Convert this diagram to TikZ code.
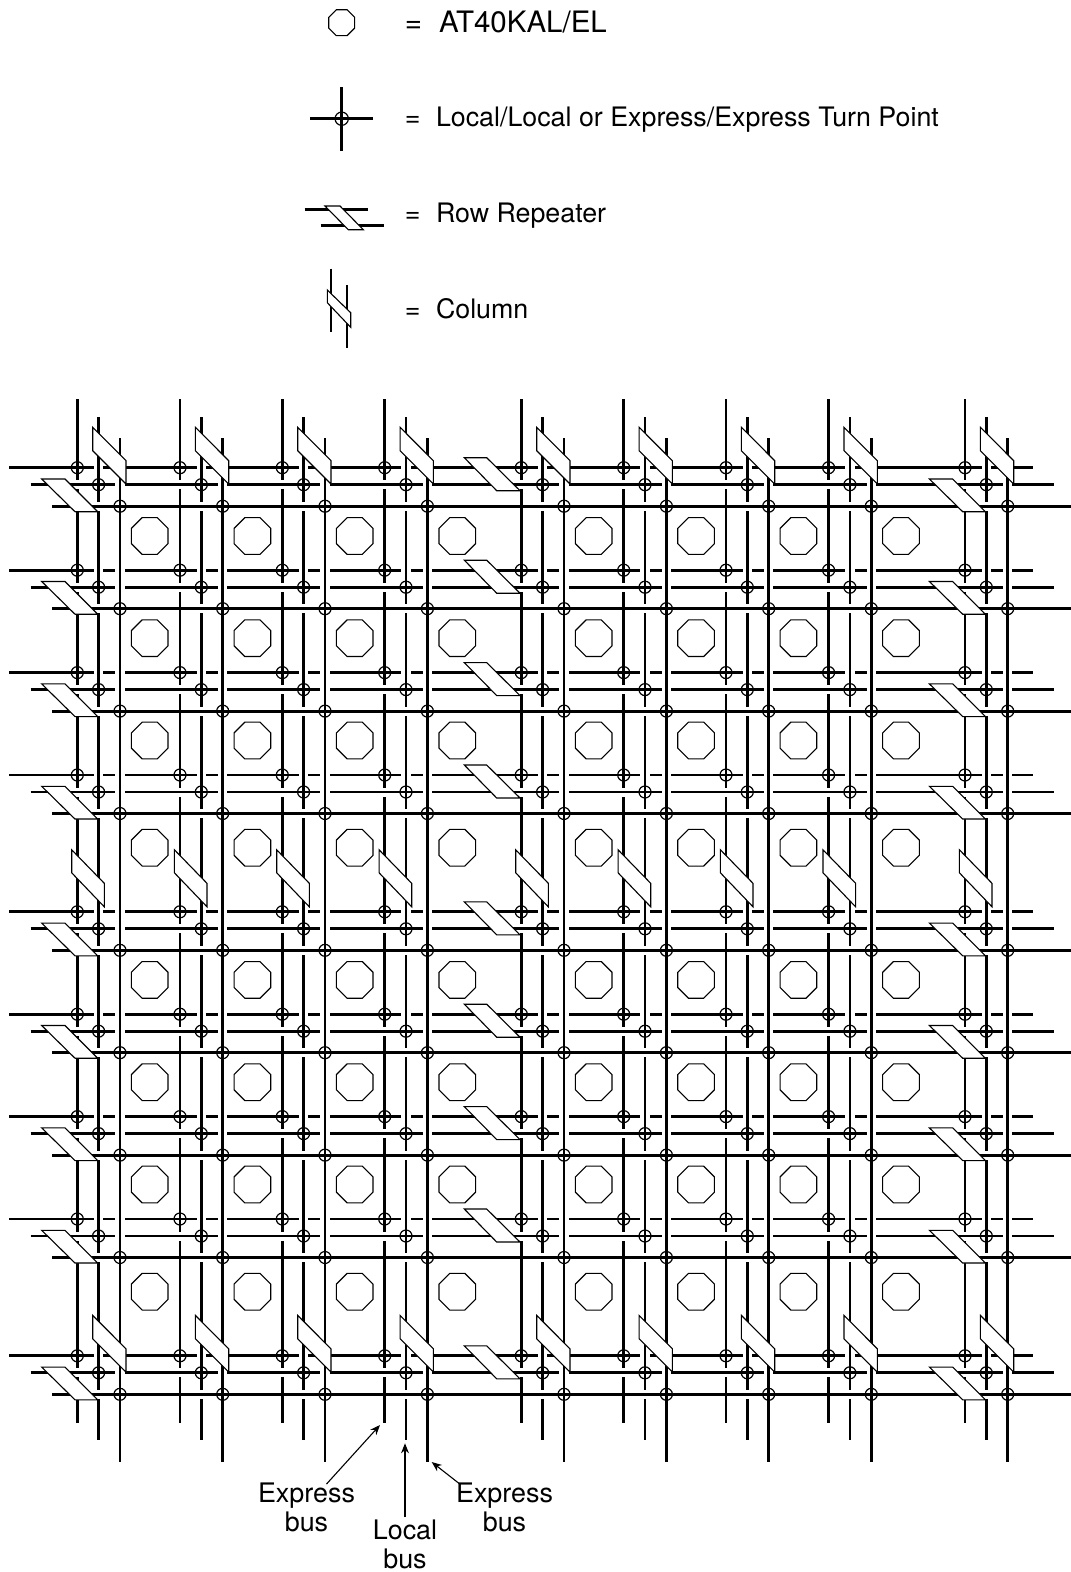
\documentclass[tikz,border=0pt]{standalone}
\usepackage{fontspec}
\setmainfont{TeX Gyre Heros}
\usetikzlibrary{shapes.geometric, arrows.meta, positioning}

\newcommand{\colrpt}[2]{\draw[rpt] (#1+15.4,#2-40.4) -- (#1+15.4,#2-17) -- (#1+48.7,#2+16.3) -- (#1+48.7,#2-7) -- cycle;}
\newcommand{\midcolrpt}[2]{\draw[rpt] (#1-5.6,#2-62) -- (#1-5.6,#2-39) -- (#1+27,#2-5) -- (#1+27,#2-28.5) -- cycle;}
\newcommand{\rowrpt}[2]{\draw[rpt] (#1-35.6,#2+11.3) -- (#1-12.3,#2+11.3) -- (#1+20.4,#2+44) -- (#1-2.3,#2+44) -- cycle;}
\newcommand{\midrowrpt}[1]{\draw[rpt] (464.3,#1-10) -- (486.7,#1-10) -- (520,#1+23) -- (496.7,#1+23) -- cycle;}

\begin{document}
\begin{tikzpicture}[
    x=1pt, y=-1pt,
    bus/.style={line width=2.8pt},
    gap/.style={white, line width=3.8pt},
    rpt/.style={draw, fill=white, line width=1.1pt},
    chip/.style={regular polygon, regular polygon sides=8, draw, line width=1.1pt,
                inner sep=0pt, minimum size=39.7pt},
    turnpt/.style={circle, draw, line width=1.2pt, inner sep=0pt, minimum size=12pt},
    legend/.style={anchor=base west, inner sep=0pt, font=\fontsize{26.8}{28}\selectfont},
    buslabel/.style={align=center, inner sep=0pt, font=\fontsize{26.9}{28.5}\selectfont},
    arrow/.style={-{Stealth[length=10pt,width=8pt]}, line width=1.1pt}
]
\useasboundingbox (0,0) rectangle (1071,1572);

% === LEGEND ===
\node[chip, minimum size=28.1pt] (legchip) at (341.7,22.7) {};
\node[legend, font=\fontsize{29.5}{31}\selectfont] (legchiptxt) at (404.7,32.7) {=\hspace{17pt}AT40KAL/EL};

\draw[bus] (310,118.7) -- (373.3,118.7);
\draw[bus] (341.7,87.3) -- (341.7,150.7);
\node[turnpt, minimum size=13.3pt] (legturn) at (341.7,118.7) {};
\node[legend] (legturntxt) at (404.7,126) {=\hspace{15.5pt}Local/Local or Express/Express Turn Point};

\draw[bus] (304.7,209.3) -- (368.3,209.3);
\draw[bus] (320.7,225.7) -- (384.3,225.7);
\draw[rpt] (325,206) -- (340,206) -- (363.3,229.7) -- (348.3,229.7) -- cycle;
\node[legend] (legrowtxt) at (404.7,222.7) {=\hspace{15.5pt}Row Repeater};

\draw[bus] (331,268.7) -- (331,332);
\draw[bus] (347,285) -- (347,348);
\draw[rpt] (327.3,290) -- (327.3,302.7) -- (350.7,327.3) -- (350.7,312.7) -- cycle;
\node[legend] (legcoltxt) at (404.7,318.7) {=\hspace{15.5pt}Column};

% === HORIZONTAL BUSES ===
\foreach \ry in {467.7,570.2,672.6,775,911.8,1014.2,1116.6,1219,1355.8} {
    \draw[bus] (9,\ry) -- (1033,\ry);
    \draw[bus] (30.7,\ry+17) -- (1054,\ry+17);
    \draw[bus] (52,\ry+38.5) -- (1071,\ry+38.5);
    \foreach \cx in {77.3,180,282.3,384.7,521.3,623.7,726,828.6,965} {
        \draw[gap] (\cx+16.6,\ry) -- (\cx+26,\ry);
        \draw[gap] (\cx+38,\ry) -- (\cx+47.4,\ry);
        \draw[gap] (\cx+38,\ry+17) -- (\cx+47.4,\ry+17);
    }
}

% === VERTICAL BUSES ===
\foreach \cx in {77.3,180,282.3,384.7,521.3,623.7,726,828.6,965} {
    \draw[bus] (\cx,399.3) -- (\cx,1423);
    \draw[bus] (\cx+21.3,417) -- (\cx+21.3,1440);
    \draw[bus] (\cx+42.7,438) -- (\cx+42.7,1461.7);
    \foreach \ry in {467.7,570.2,672.6,775,911.8,1014.2,1116.6,1219,1355.8} {
        \draw[gap] (\cx,\ry+12.5) -- (\cx,\ry+21.5);
        \draw[bus] (\cx-2.2,\ry+17) -- (\cx+2.2,\ry+17);
        \draw[gap] (\cx+21.3,\ry+34) -- (\cx+21.3,\ry+43);
        \draw[bus] (\cx+19.1,\ry+38.5) -- (\cx+23.5,\ry+38.5);
    }
}

% === REPEATERS ===
\foreach \cx in {77.3,180,282.3,384.7,521.3,623.7,726,828.6,965} {
    \colrpt{\cx}{467.7}
    \midcolrpt{\cx}{911.8}
    \colrpt{\cx}{1355.8}
}
\foreach \ry in {467.7,570.2,672.6,775,911.8,1014.2,1116.6,1219,1355.8} {
    \rowrpt{77.3}{\ry}
    \midrowrpt{\ry}
    \rowrpt{965}{\ry}
}

% === TURN POINTS ===
\foreach \cx [count=\ci] in {77.3,180,282.3,384.7,521.3,623.7,726,828.6,965} {
    \foreach \ry [count=\ri] in {467.7,570.2,672.6,775,911.8,1014.2,1116.6,1219,1355.8} {
        \node[turnpt] (tpa\ci-\ri) at (\cx,\ry) {};
        \node[turnpt] (tpb\ci-\ri) at (\cx+21.3,\ry+17) {};
        \node[turnpt] (tpc\ci-\ri) at (\cx+42.7,\ry+38.5) {};
    }
}

% === CHIPS ===
\foreach \cx [count=\ci] in {149.7,252.4,354.7,457.3,593.7,696.1,798.4,901} {
    \foreach \ry [count=\ri] in {536,638.2,740.5,847.7,979.9,1082.2,1184.5,1291.7} {
        \node[chip] (chip\ci-\ri) at (\cx,\ry) {};
    }
}

% === BUS LABELS ===
\coordinate (endexpa) at (380,1425);
\coordinate (endloc) at (405,1443.3);
\coordinate (endexpb) at (431.7,1462);
\node[buslabel] (lblexpa) at (306.5,1507.5) {Express\\bus};
\node[buslabel] (lblloc) at (405,1544.5) {Local\\bus};
\node[buslabel] (lblexpb) at (504.5,1507.5) {Express\\bus};

\draw[arrow] ([xshift=20pt,yshift=-1pt]lblexpa.north) -- (endexpa);
\draw[arrow] (lblloc.north) ++(0,-3) -- (endloc);
\draw[arrow] ([xshift=4pt,yshift=-1pt]lblexpb.north west) -- (endexpb);

\end{tikzpicture}
\end{document}
